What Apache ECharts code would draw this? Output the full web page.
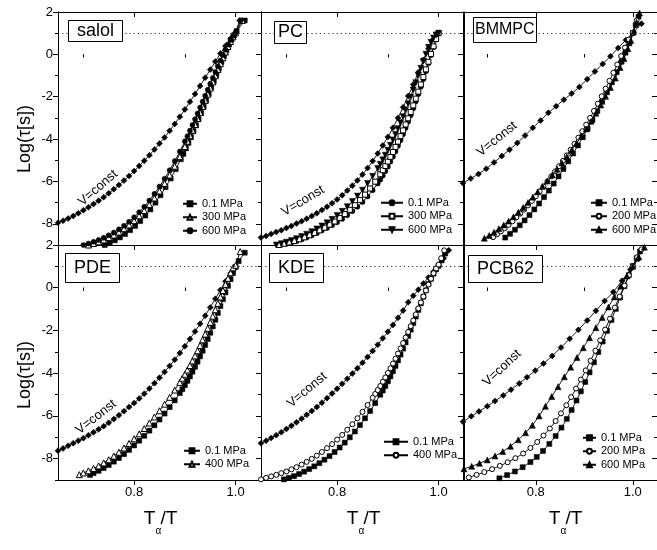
<!DOCTYPE html>
<html>
<head>
<meta charset="utf-8">
<script src="https://cdn.jsdelivr.net/npm/echarts@6/dist/echarts.min.js"></script>
<style>
  html, body { margin: 0; padding: 0; background: #fff; }
  #chart { width: 657px; height: 550px; }
</style>
</head>
<body>
<div id="chart"></div>
<script>
// ---- tick positions ----
const xTicksMajor = [0.8, 1.0];
const xTicksMinor = [0.7, 0.9];
const yTicksMajor = [-8, -6, -4, -2, 0, 2];
const yTicksMinor = [-9, -7, -5, -3, -1, 1];

// ---- panel names and legend labels ----
const panelNames = ['salol', 'PC', 'BMMPC', 'PDE', 'KDE', 'PCB62'];
const salolLabels = ['0.1 MPa', '300 MPa', '600 MPa'];
const pcLabels = ['0.1 MPa', '300 MPa', '600 MPa'];
const bmmpcLabels = ['0.1 MPa', '200 MPa', '600 MPa'];
const pdeLabels = ['0.1 MPa', '400 MPa'];
const kdeLabels = ['0.1 MPa', '400 MPa'];
const pcb62Labels = ['0.1 MPa', '200 MPa', '600 MPa'];

// ---- salol: [Tα/T, log τ] ----
const salolVconst = [[0.65,-7.95],[0.66,-7.85],[0.67,-7.75],[0.68,-7.63],[0.69,-7.5],[0.70,-7.36],[0.71,-7.22],[0.72,-7.07],[0.73,-6.91],[0.74,-6.74],[0.75,-6.56],[0.76,-6.37],[0.77,-6.17],[0.78,-5.96],[0.79,-5.74],[0.80,-5.51],[0.81,-5.27],[0.82,-5.02],[0.83,-4.76],[0.84,-4.49],[0.85,-4.21],[0.86,-3.92],[0.87,-3.61],[0.88,-3.29],[0.89,-2.95],[0.90,-2.6],[0.91,-2.24],[0.92,-1.87],[0.93,-1.49],[0.94,-1.1],[0.95,-0.72],[0.96,-0.34],[0.97,0.04],[0.98,0.4],[0.99,0.74],[1.0,1.04],[1.008,1.6]];
const salol01 = [[0.742,-9.0],[0.752,-8.9],[0.762,-8.78],[0.772,-8.64],[0.782,-8.48],[0.792,-8.3],[0.802,-8.1],[0.812,-7.87],[0.822,-7.61],[0.832,-7.32],[0.842,-7.0],[0.852,-6.65],[0.862,-6.27],[0.872,-5.86],[0.882,-5.42],[0.892,-4.95],[0.897,-4.7],[0.902,-4.44],[0.907,-4.18],[0.912,-3.91],[0.917,-3.63],[0.922,-3.35],[0.927,-3.06],[0.932,-2.77],[0.937,-2.47],[0.942,-2.17],[0.947,-1.87],[0.952,-1.57],[0.957,-1.27],[0.962,-0.97],[0.967,-0.67],[0.972,-0.37],[0.977,-0.08],[0.982,0.2],[0.987,0.46],[0.992,0.7],[0.997,0.9],[1.002,1.1],[1.018,1.6]];
const salol300 = [[0.71,-9.0],[0.72,-8.93],[0.73,-8.85],[0.74,-8.76],[0.75,-8.65],[0.76,-8.53],[0.77,-8.39],[0.78,-8.23],[0.79,-8.05],[0.80,-7.85],[0.81,-7.62],[0.82,-7.37],[0.83,-7.09],[0.84,-6.78],[0.85,-6.45],[0.86,-6.09],[0.87,-5.7],[0.88,-5.28],[0.89,-4.83],[0.90,-4.35],[0.905,-4.1],[0.91,-3.84],[0.915,-3.58],[0.92,-3.31],[0.925,-3.03],[0.93,-2.75],[0.935,-2.46],[0.94,-2.17],[0.945,-1.88],[0.95,-1.59],[0.955,-1.3],[0.96,-1.01],[0.965,-0.72],[0.97,-0.44],[0.975,-0.16],[0.98,0.11],[0.985,0.37],[0.99,0.61],[0.995,0.83],[1.0,1.02],[1.013,1.6]];
const salol600 = [[0.70,-9.0],[0.71,-8.93],[0.72,-8.85],[0.73,-8.76],[0.74,-8.66],[0.75,-8.54],[0.76,-8.41],[0.77,-8.26],[0.78,-8.09],[0.79,-7.9],[0.80,-7.69],[0.81,-7.45],[0.82,-7.19],[0.83,-6.9],[0.84,-6.58],[0.85,-6.24],[0.86,-5.87],[0.87,-5.47],[0.88,-5.04],[0.89,-4.59],[0.90,-4.1],[0.905,-3.86],[0.91,-3.6],[0.915,-3.33],[0.92,-3.06],[0.925,-2.79],[0.93,-2.51],[0.935,-2.23],[0.94,-1.95],[0.945,-1.67],[0.95,-1.39],[0.955,-1.11],[0.96,-0.83],[0.965,-0.56],[0.97,-0.29],[0.975,-0.03],[0.98,0.22],[0.985,0.46],[0.99,0.68],[0.995,0.87],[1.0,1.03],[1.01,1.6]];

// ---- PC ----
const pcVconst = [[0.65,-8.65],[0.66,-8.57],[0.67,-8.48],[0.68,-8.39],[0.69,-8.3],[0.70,-8.2],[0.71,-8.1],[0.72,-7.99],[0.73,-7.88],[0.74,-7.76],[0.75,-7.63],[0.76,-7.5],[0.77,-7.35],[0.78,-7.2],[0.79,-7.03],[0.80,-6.85],[0.81,-6.65],[0.82,-6.43],[0.83,-6.2],[0.84,-5.95],[0.85,-5.67],[0.86,-5.37],[0.87,-5.04],[0.88,-4.68],[0.89,-4.3],[0.90,-3.9],[0.91,-3.47],[0.92,-3.0],[0.93,-2.5],[0.94,-1.97],[0.95,-1.42],[0.96,-0.85],[0.97,-0.27],[0.98,0.27],[0.99,0.72],[1.0,1.0]];
const pc01 = [[0.69,-9.0],[0.70,-8.95],[0.71,-8.89],[0.72,-8.82],[0.73,-8.74],[0.74,-8.65],[0.75,-8.55],[0.76,-8.44],[0.77,-8.32],[0.78,-8.2],[0.79,-8.07],[0.80,-7.93],[0.81,-7.77],[0.82,-7.6],[0.83,-7.41],[0.84,-7.2],[0.85,-6.97],[0.86,-6.71],[0.87,-6.42],[0.88,-6.1],[0.885,-5.92],[0.89,-5.73],[0.895,-5.52],[0.90,-5.3],[0.905,-5.07],[0.91,-4.83],[0.915,-4.58],[0.92,-4.32],[0.925,-4.05],[0.93,-3.77],[0.935,-3.48],[0.94,-3.18],[0.945,-2.87],[0.95,-2.55],[0.955,-2.22],[0.96,-1.88],[0.965,-1.53],[0.97,-1.17],[0.975,-0.8],[0.98,-0.42],[0.985,-0.04],[0.99,0.34],[0.995,0.7],[1.0,1.0]];
const pc300 = [[0.685,-9.0],[0.695,-8.94],[0.705,-8.88],[0.715,-8.81],[0.725,-8.73],[0.735,-8.64],[0.745,-8.54],[0.755,-8.43],[0.765,-8.31],[0.775,-8.18],[0.785,-8.04],[0.795,-7.89],[0.805,-7.72],[0.815,-7.54],[0.825,-7.34],[0.835,-7.12],[0.845,-6.88],[0.855,-6.62],[0.865,-6.33],[0.875,-6.01],[0.885,-5.66],[0.89,-5.47],[0.895,-5.27],[0.90,-5.06],[0.905,-4.84],[0.91,-4.61],[0.915,-4.37],[0.92,-4.12],[0.925,-3.86],[0.93,-3.59],[0.935,-3.31],[0.94,-3.02],[0.945,-2.72],[0.95,-2.41],[0.955,-2.09],[0.96,-1.76],[0.965,-1.42],[0.97,-1.07],[0.975,-0.71],[0.98,-0.35],[0.985,0.02],[0.99,0.38],[0.995,0.72],[1.0,1.0]];
const pc600 = [[0.68,-9.0],[0.69,-8.94],[0.70,-8.87],[0.71,-8.79],[0.72,-8.7],[0.73,-8.6],[0.74,-8.49],[0.75,-8.37],[0.76,-8.24],[0.77,-8.1],[0.78,-7.95],[0.79,-7.79],[0.80,-7.61],[0.81,-7.41],[0.82,-7.19],[0.83,-6.95],[0.84,-6.69],[0.85,-6.41],[0.86,-6.1],[0.87,-5.76],[0.88,-5.39],[0.885,-5.19],[0.89,-4.98],[0.895,-4.76],[0.90,-4.53],[0.905,-4.29],[0.91,-4.04],[0.915,-3.78],[0.92,-3.51],[0.925,-3.23],[0.93,-2.94],[0.935,-2.64],[0.94,-2.33],[0.945,-2.01],[0.95,-1.68],[0.955,-1.34],[0.96,-1.0],[0.965,-0.66],[0.97,-0.32],[0.975,0.01],[0.98,0.33],[0.985,0.57],[0.99,0.77],[0.995,0.92],[1.0,1.0]];

// ---- BMMPC ----
const bmmpcVconst = [[0.65,-6.08],[0.666,-5.86],[0.682,-5.65],[0.698,-5.4],[0.714,-5.1],[0.73,-4.8],[0.746,-4.5],[0.762,-4.18],[0.778,-3.83],[0.794,-3.47],[0.81,-3.12],[0.826,-2.76],[0.842,-2.45],[0.858,-2.14],[0.874,-1.85],[0.89,-1.54],[0.906,-1.17],[0.922,-0.81],[0.938,-0.45],[0.954,-0.09],[0.97,0.3],[0.986,0.68],[1.002,1.05],[1.018,1.45]];
const bmmpc01 = [[0.737,-8.65],[0.747,-8.47],[0.757,-8.28],[0.767,-8.07],[0.777,-7.84],[0.787,-7.59],[0.797,-7.32],[0.807,-7.04],[0.817,-6.74],[0.827,-6.43],[0.837,-6.1],[0.847,-5.76],[0.857,-5.41],[0.867,-5.05],[0.877,-4.68],[0.887,-4.3],[0.897,-3.91],[0.907,-3.51],[0.917,-3.1],[0.927,-2.68],[0.937,-2.24],[0.947,-1.79],[0.957,-1.32],[0.967,-0.84],[0.977,-0.35],[0.985,0.08],[0.993,0.52],[1.0,1.0],[1.006,1.38],[1.012,1.78]];
const bmmpc200 = [[0.712,-8.63],[0.72,-8.5],[0.728,-8.36],[0.736,-8.21],[0.744,-8.05],[0.752,-7.88],[0.76,-7.7],[0.768,-7.52],[0.776,-7.33],[0.784,-7.13],[0.792,-6.92],[0.80,-6.7],[0.808,-6.47],[0.816,-6.24],[0.824,-6.0],[0.832,-5.76],[0.84,-5.52],[0.848,-5.28],[0.856,-5.03],[0.864,-4.77],[0.872,-4.5],[0.88,-4.22],[0.888,-3.93],[0.896,-3.63],[0.904,-3.32],[0.912,-3.0],[0.92,-2.67],[0.928,-2.33],[0.936,-1.98],[0.944,-1.62],[0.952,-1.25],[0.96,-0.87],[0.968,-0.48],[0.976,-0.08],[0.984,0.32],[0.992,0.7],[1.0,1.02],[1.008,1.6]];
const bmmpc600 = [[0.694,-8.68],[0.704,-8.55],[0.714,-8.4],[0.724,-8.23],[0.734,-8.06],[0.744,-7.87],[0.754,-7.67],[0.764,-7.45],[0.774,-7.23],[0.784,-6.99],[0.794,-6.74],[0.804,-6.49],[0.814,-6.23],[0.824,-5.97],[0.834,-5.7],[0.844,-5.42],[0.854,-5.13],[0.864,-4.83],[0.874,-4.52],[0.884,-4.2],[0.894,-3.87],[0.904,-3.52],[0.914,-3.16],[0.924,-2.78],[0.934,-2.39],[0.944,-1.98],[0.954,-1.56],[0.964,-1.12],[0.974,-0.62],[0.982,-0.2],[0.99,0.27],[0.996,0.66],[1.002,1.08],[1.008,1.52],[1.014,1.95]];

// ---- PDE ----
const pdeVconst = [[0.65,-7.63],[0.66,-7.52],[0.67,-7.4],[0.68,-7.28],[0.69,-7.16],[0.70,-7.04],[0.71,-6.91],[0.72,-6.77],[0.73,-6.63],[0.74,-6.48],[0.75,-6.32],[0.76,-6.15],[0.77,-5.97],[0.78,-5.78],[0.79,-5.58],[0.80,-5.4],[0.81,-5.18],[0.82,-4.96],[0.83,-4.72],[0.84,-4.47],[0.85,-4.21],[0.86,-3.94],[0.87,-3.66],[0.88,-3.37],[0.89,-3.06],[0.90,-2.74],[0.91,-2.4],[0.92,-2.05],[0.93,-1.69],[0.94,-1.31],[0.95,-0.92],[0.96,-0.52],[0.97,-0.11],[0.98,0.3],[0.99,0.68],[1.0,1.0]];
const pde01 = [[0.713,-8.76],[0.72,-8.68],[0.73,-8.57],[0.74,-8.44],[0.75,-8.3],[0.76,-8.14],[0.77,-7.97],[0.78,-7.79],[0.79,-7.59],[0.80,-7.38],[0.81,-7.16],[0.82,-6.93],[0.83,-6.69],[0.84,-6.44],[0.85,-6.17],[0.86,-5.89],[0.87,-5.59],[0.88,-5.27],[0.89,-4.93],[0.895,-4.75],[0.90,-4.56],[0.905,-4.36],[0.91,-4.15],[0.915,-3.93],[0.92,-3.7],[0.925,-3.46],[0.93,-3.21],[0.935,-2.95],[0.94,-2.68],[0.945,-2.4],[0.95,-2.11],[0.955,-1.81],[0.96,-1.5],[0.965,-1.18],[0.97,-0.86],[0.975,-0.54],[0.98,-0.22],[0.985,0.09],[0.99,0.4],[0.995,0.69],[1.0,0.97],[1.006,1.25],[1.018,1.64]];
const pde400 = [[0.692,-8.75],[0.70,-8.67],[0.71,-8.57],[0.72,-8.46],[0.73,-8.34],[0.74,-8.2],[0.75,-8.05],[0.76,-7.88],[0.77,-7.7],[0.78,-7.5],[0.79,-7.29],[0.80,-7.07],[0.81,-6.84],[0.82,-6.59],[0.83,-6.33],[0.84,-6.05],[0.85,-5.76],[0.86,-5.45],[0.87,-5.13],[0.88,-4.79],[0.89,-4.43],[0.895,-4.24],[0.90,-4.05],[0.905,-3.85],[0.91,-3.64],[0.915,-3.42],[0.92,-3.19],[0.925,-2.95],[0.93,-2.7],[0.935,-2.44],[0.94,-2.17],[0.945,-1.9],[0.95,-1.62],[0.955,-1.33],[0.96,-1.03],[0.965,-0.73],[0.97,-0.43],[0.975,-0.13],[0.98,0.16],[0.985,0.44],[0.99,0.7],[0.995,0.93],[1.0,1.05],[1.009,1.69]];

// ---- KDE ----
const kdeVconst = [[0.65,-7.28],[0.66,-7.16],[0.67,-7.03],[0.68,-6.9],[0.69,-6.76],[0.70,-6.61],[0.71,-6.46],[0.72,-6.3],[0.73,-6.13],[0.74,-5.95],[0.75,-5.77],[0.76,-5.58],[0.77,-5.38],[0.78,-5.17],[0.79,-4.95],[0.80,-4.73],[0.81,-4.5],[0.82,-4.26],[0.83,-4.02],[0.84,-3.77],[0.85,-3.51],[0.86,-3.24],[0.87,-2.96],[0.88,-2.67],[0.89,-2.37],[0.90,-2.06],[0.91,-1.74],[0.92,-1.41],[0.93,-1.07],[0.94,-0.68],[0.95,-0.38],[0.96,-0.09],[0.97,0.2],[0.98,0.48],[0.99,0.75],[1.0,1.02],[1.01,1.38],[1.02,1.75]];
const kde01 = [[0.695,-8.97],[0.705,-8.9],[0.715,-8.82],[0.725,-8.72],[0.735,-8.61],[0.745,-8.49],[0.755,-8.36],[0.765,-8.21],[0.775,-8.05],[0.785,-7.88],[0.795,-7.69],[0.805,-7.48],[0.815,-7.25],[0.825,-7.0],[0.835,-6.73],[0.845,-6.43],[0.855,-6.11],[0.865,-5.77],[0.875,-5.4],[0.885,-5.01],[0.89,-4.81],[0.895,-4.6],[0.90,-4.38],[0.905,-4.15],[0.91,-3.91],[0.915,-3.66],[0.92,-3.4],[0.925,-3.13],[0.93,-2.85],[0.935,-2.56],[0.94,-2.26],[0.945,-1.96],[0.95,-1.66],[0.955,-1.35],[0.96,-1.04],[0.965,-0.73],[0.97,-0.42],[0.975,-0.12],[0.98,0.17],[0.985,0.42],[0.99,0.66],[0.995,0.86],[1.0,1.03],[1.006,1.28],[1.013,1.6]];
const kde400 = [[0.65,-8.97],[0.66,-8.9],[0.67,-8.83],[0.68,-8.76],[0.69,-8.68],[0.70,-8.6],[0.71,-8.5],[0.72,-8.4],[0.73,-8.28],[0.74,-8.15],[0.75,-8.01],[0.76,-7.86],[0.77,-7.69],[0.78,-7.51],[0.79,-7.32],[0.80,-7.11],[0.81,-6.89],[0.82,-6.65],[0.83,-6.39],[0.84,-6.11],[0.85,-5.81],[0.86,-5.49],[0.87,-5.15],[0.875,-4.97],[0.88,-4.79],[0.885,-4.6],[0.89,-4.4],[0.895,-4.2],[0.90,-3.99],[0.905,-3.77],[0.91,-3.55],[0.915,-3.32],[0.92,-3.08],[0.925,-2.84],[0.93,-2.59],[0.935,-2.33],[0.94,-2.07],[0.945,-1.8],[0.95,-1.53],[0.955,-1.25],[0.96,-0.97],[0.965,-0.69],[0.97,-0.41],[0.975,-0.13],[0.98,0.15],[0.985,0.42],[0.99,0.68],[0.995,0.9],[1.0,1.08],[1.005,1.38],[1.011,1.75]];

// ---- PCB62 ----
const pcb62Vconst = [[0.65,-6.27],[0.667,-6.02],[0.683,-5.79],[0.70,-5.55],[0.716,-5.3],[0.733,-5.04],[0.749,-4.77],[0.766,-4.48],[0.782,-4.19],[0.799,-3.88],[0.816,-3.55],[0.834,-3.19],[0.852,-2.8],[0.87,-2.39],[0.888,-1.97],[0.906,-1.53],[0.924,-1.08],[0.942,-0.62],[0.96,-0.2],[0.978,0.33],[0.995,0.85],[1.012,1.35]];
const pcb6201 = [[0.725,-8.92],[0.741,-8.77],[0.757,-8.6],[0.773,-8.4],[0.789,-8.16],[0.802,-7.92],[0.815,-7.64],[0.828,-7.31],[0.841,-6.94],[0.853,-6.55],[0.864,-6.14],[0.874,-5.72],[0.884,-5.28],[0.893,-4.85],[0.902,-4.41],[0.911,-3.96],[0.92,-3.49],[0.929,-3.01],[0.938,-2.52],[0.947,-2.02],[0.956,-1.51],[0.965,-0.99],[0.974,-0.46],[0.983,0.07],[0.992,0.59],[1.0,1.02],[1.008,1.38],[1.015,1.7]];
const pcb62200 = [[0.662,-8.88],[0.678,-8.76],[0.694,-8.63],[0.71,-8.49],[0.726,-8.34],[0.742,-8.17],[0.758,-7.98],[0.774,-7.76],[0.789,-7.5],[0.803,-7.22],[0.816,-6.92],[0.829,-6.59],[0.841,-6.24],[0.852,-5.88],[0.863,-5.5],[0.873,-5.12],[0.883,-4.72],[0.893,-4.3],[0.903,-3.87],[0.913,-3.42],[0.923,-2.95],[0.933,-2.46],[0.943,-1.96],[0.953,-1.45],[0.963,-0.93],[0.973,-0.41],[0.983,0.1],[0.992,0.58],[1.0,1.0],[1.009,1.43],[1.018,1.8]];
const pcb62600 = [[0.652,-8.48],[0.668,-8.36],[0.684,-8.22],[0.70,-8.06],[0.716,-7.88],[0.732,-7.67],[0.748,-7.42],[0.764,-7.12],[0.779,-6.79],[0.793,-6.44],[0.807,-6.0],[0.82,-5.55],[0.833,-5.09],[0.846,-4.63],[0.859,-4.17],[0.872,-3.72],[0.885,-3.27],[0.898,-2.81],[0.911,-2.34],[0.924,-1.87],[0.937,-1.39],[0.95,-0.9],[0.962,-0.43],[0.975,0.07],[0.988,0.55],[1.0,1.0],[1.012,1.45],[1.024,1.9]];

// ---------------------------------------------------------------
const FONT = '"Liberation Sans", Arial, Helvetica, sans-serif';
const X_MIN = 0.65, X_MAX = 1.05, Y_MIN = -9, Y_MAX = 2;
const colLeft = [58, 261, 463];
const colWidth = 203;
const rowTop = [12, 245];
const rowHeight = [233, 235];

// marker styles: [symbol, open, size, rotate]
const DIAMOND = ['diamond', false, 6, 0];
const SQUARE = ['rect', false, 5, 0];
const OSQUARE = ['rect', true, 5, 0];
const CIRCLE = ['circle', false, 5, 0];
const OCIRCLE = ['circle', true, 5, 0];
const TRI = ['triangle', false, 6, 0];
const OTRI = ['triangle', true, 6, 0];
const DTRI = ['triangle', false, 6, 180];

const panels = [
  { vconst: salolVconst, sets: [salol01, salol300, salol600], labels: salolLabels, marks: [SQUARE, OTRI, CIRCLE],
    box: { left: 68, top: 20, pad: [2, 9, 2, 9], fs: 18 }, legend: { left: 182, top: 197, w: 14 }, vText: [98, 188, 41] },
  { vconst: pcVconst, sets: [pc01, pc300, pc600], labels: pcLabels, marks: [CIRCLE, OSQUARE, DTRI],
    box: { left: 274, top: 21, pad: [2, 4, 3, 4], fs: 18 }, legend: { left: 380, top: 196, w: 22 }, vText: [303, 201, 31] },
  { vconst: bmmpcVconst, sets: [bmmpc01, bmmpc200, bmmpc600], labels: bmmpcLabels, marks: [SQUARE, OCIRCLE, TRI],
    box: { left: 473, top: 17, pad: [4, 2, 4, 2], fs: 16 }, legend: { left: 590, top: 196, w: 16 }, vText: [497, 139, 39] },
  { vconst: pdeVconst, sets: [pde01, pde400], labels: pdeLabels, marks: [SQUARE, OTRI],
    box: { left: 65, top: 253, pad: [6, 9, 6, 9], fs: 18 }, legend: { left: 183, top: 444, w: 16 }, vText: [96, 417, 38] },
  { vconst: kdeVconst, sets: [kde01, kde400], labels: kdeLabels, marks: [SQUARE, OCIRCLE],
    box: { left: 269, top: 253, pad: [6, 9, 6, 9], fs: 18 }, legend: { left: 383, top: 435, w: 24 }, vText: [307, 390, 40] },
  { vconst: pcb62Vconst, sets: [pcb6201, pcb62200, pcb62600], labels: pcb62Labels, marks: [SQUARE, OCIRCLE, TRI],
    box: { left: 468, top: 255, pad: [5, 9, 5, 9], fs: 18 }, legend: { left: 582, top: 431, w: 13 }, vText: [502, 368, 43] }
];

function xAxisSet(gi, showLabel) {
  const base = { type: 'value', gridIndex: gi, min: X_MIN, max: X_MAX, splitLine: { show: false }, silent: true };
  const line = { show: true, onZero: false, lineStyle: { color: '#000', width: 1 } };
  return [
    Object.assign({}, base, { position: 'bottom', axisLine: line,
      axisTick: { show: true, inside: false, length: 5, customValues: xTicksMajor, lineStyle: { color: '#000' } },
      axisLabel: { show: showLabel, customValues: xTicksMajor, formatter: v => v.toFixed(1), color: '#000', fontSize: 13, fontFamily: FONT, margin: 6 } }),
    Object.assign({}, base, { position: 'bottom', axisLine: { show: false },
      axisTick: { show: true, inside: false, length: 3, customValues: xTicksMinor, lineStyle: { color: '#000' } },
      axisLabel: { show: false } }),
    Object.assign({}, base, { position: 'top', axisLine: line,
      axisTick: { show: true, inside: true, length: 5, customValues: xTicksMajor, lineStyle: { color: '#000' } },
      axisLabel: { show: false } }),
    Object.assign({}, base, { position: 'top', axisLine: { show: false },
      axisTick: { show: true, inside: true, length: 3, customValues: xTicksMinor, lineStyle: { color: '#000' } },
      axisLabel: { show: false } })
  ];
}

function yAxisSet(gi, showLabel) {
  const base = { type: 'value', gridIndex: gi, min: Y_MIN, max: Y_MAX, splitLine: { show: false }, silent: true };
  const line = { show: true, onZero: false, lineStyle: { color: '#000', width: 1 } };
  return [
    Object.assign({}, base, { position: 'left', axisLine: line,
      axisTick: { show: true, inside: false, length: 5, customValues: yTicksMajor, lineStyle: { color: '#000' } },
      axisLabel: { show: showLabel, customValues: yTicksMajor, formatter: v => String(v), color: '#000', fontSize: 13, fontFamily: FONT, margin: 5 } }),
    Object.assign({}, base, { position: 'left', axisLine: { show: false },
      axisTick: { show: true, inside: false, length: 3, customValues: yTicksMinor, lineStyle: { color: '#000' } },
      axisLabel: { show: false } }),
    Object.assign({}, base, { position: 'right', axisLine: line,
      axisTick: { show: true, inside: true, length: 5, customValues: yTicksMajor, lineStyle: { color: '#000' } },
      axisLabel: { show: false } }),
    Object.assign({}, base, { position: 'right', axisLine: { show: false },
      axisTick: { show: true, inside: true, length: 3, customValues: yTicksMinor, lineStyle: { color: '#000' } },
      axisLabel: { show: false } })
  ];
}

function lineSeries(name, data, mark, xi, yi, extra) {
  const [symbol, open, size, rotate] = mark;
  return Object.assign({
    type: 'line', name: name, data: data, xAxisIndex: xi, yAxisIndex: yi,
    symbol: symbol, symbolSize: size, symbolRotate: rotate, showAllSymbol: true,
    lineStyle: { color: '#000', width: 0.9 },
    itemStyle: open ? { color: '#fff', borderColor: '#000', borderWidth: 1 } : { color: '#000', borderColor: '#000', borderWidth: 0.5 },
    emphasis: { disabled: true }, animation: false, z: 3
  }, extra || {});
}

const grids = [], xAxes = [], yAxes = [], series = [], legends = [], titles = [], graphics = [];

panels.forEach((p, i) => {
  const row = Math.floor(i / 3), col = i % 3;
  grids.push({ left: colLeft[col], top: rowTop[row], width: colWidth, height: rowHeight[row], show: false });
  const xi = xAxes.length, yi = yAxes.length;
  xAxes.push(...xAxisSet(i, row === 1));
  yAxes.push(...yAxisSet(i, col === 0));

  // isochoric curve, carrying the log τ = 1 reference line
  series.push(lineSeries(panelNames[i] + '|V=const', p.vconst, DIAMOND, xi, yi, {
    markLine: { silent: true, symbol: ['none', 'none'], label: { show: false },
      lineStyle: { type: [1.2, 3], color: '#333', width: 1 }, data: [{ yAxis: 1 }], animation: false }
  }));
  const names = [];
  p.sets.forEach((d, k) => {
    const nm = panelNames[i] + '|' + p.labels[k];
    names.push(nm);
    series.push(lineSeries(nm, d, p.marks[k], xi, yi));
  });

  legends.push({
    data: names, left: p.legend.left, top: p.legend.top, orient: 'vertical',
    itemGap: 0, itemWidth: p.legend.w, itemHeight: 6, padding: 0, selectedMode: false,
    formatter: n => n.split('|')[1],
    textStyle: { fontSize: 11, fontFamily: FONT, color: '#000', lineHeight: 13.5 }
  });

  titles.push({
    text: panelNames[i], left: p.box.left, top: p.box.top, padding: p.box.pad,
    borderColor: '#000', borderWidth: 1, backgroundColor: '#fff', z: 10,
    textStyle: { fontSize: p.box.fs, fontWeight: 'normal', fontFamily: FONT, color: '#000', lineHeight: 18 }
  });

  graphics.push({
    type: 'text', x: p.vText[0], y: p.vText[1], rotation: p.vText[2] * Math.PI / 180, z: 20,
    style: { text: 'V=const', fontSize: 13, fontFamily: FONT, fill: '#000', align: 'center', verticalAlign: 'middle' }
  });

  // horizontal axis title below bottom-row panels
  if (row === 1) {
    const cx = colLeft[col] + colWidth / 2;
    graphics.push(
      { type: 'text', x: cx - 10, y: 519, z: 20, style: { text: 'T', fontSize: 19, fontFamily: FONT, fill: '#000', align: 'center', verticalAlign: 'middle' } },
      { type: 'text', x: cx - 1, y: 531, z: 20, style: { text: 'α', fontSize: 10, fontFamily: FONT, fill: '#000', align: 'center', verticalAlign: 'middle' } },
      { type: 'text', x: cx + 9.5, y: 519, z: 20, style: { text: '/T', fontSize: 19, fontFamily: FONT, fill: '#000', align: 'center', verticalAlign: 'middle' } }
    );
  }
});

// vertical axis titles
[139, 375].forEach(yc => {
  graphics.push({ type: 'text', x: 25, y: yc, rotation: Math.PI / 2, z: 20,
    style: { text: 'Log(τ[s])', fontSize: 18, fontFamily: FONT, fill: '#000', align: 'center', verticalAlign: 'middle' } });
});

const chart = echarts.init(document.getElementById('chart'), null, { renderer: 'canvas' });
chart.setOption({
  backgroundColor: '#fff',
  animation: false,
  grid: grids,
  xAxis: xAxes,
  yAxis: yAxes,
  legend: legends,
  title: titles,
  series: series,
  graphic: graphics
});
</script>
</body>
</html>
